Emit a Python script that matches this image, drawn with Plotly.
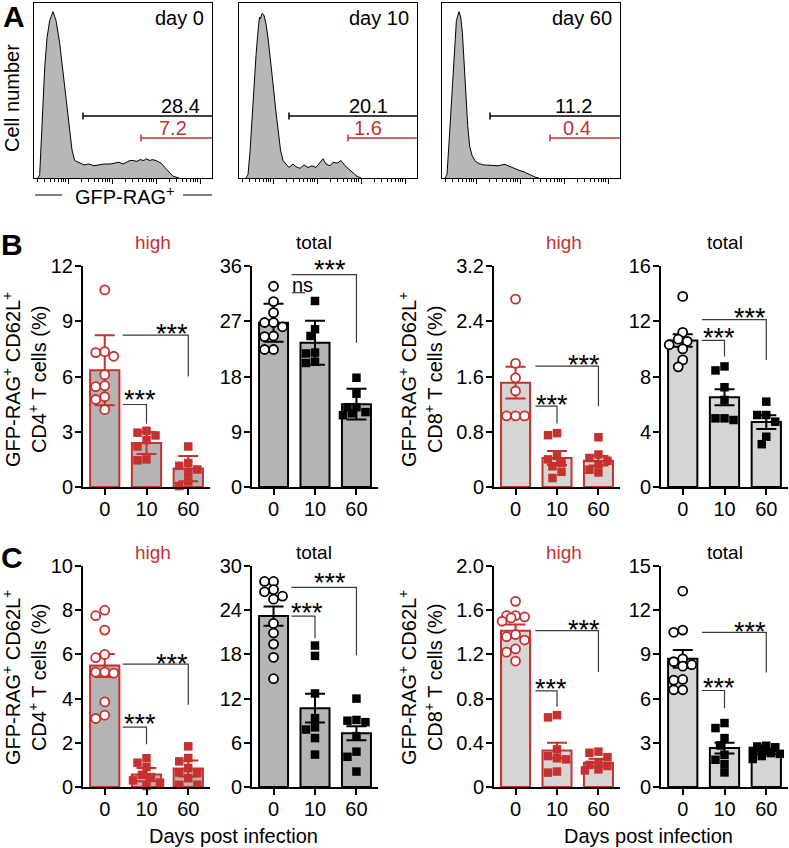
import math
import plotly.graph_objects as go

# ---------------- data ----------------
days = ["0", "10", "60"]

# panel A: histograms (x = position along GFP axis, y = % of max)
hist_d0_x = [4, 5.7, 8, 10.7, 13, 15.7, 19, 22, 25.7, 29, 32, 35.7, 38, 40.7, 45.7, 50, 55, 60, 65, 70,
             76, 81, 85, 89, 92, 96, 99, 103, 106, 110, 112, 116, 118, 122, 127, 131, 135, 139, 145]
hist_d0_y = [0, 2, 30, 63, 80, 90, 95, 90, 77, 60, 45, 26, 16, 10, 8.5, 7.5, 8, 7, 7.5, 8,
             8, 8.5, 9, 8, 9, 10, 10, 9.5, 10.5, 10, 11, 10, 10.5, 10, 8.5, 6, 3, 1, 0]
hist_d10_x = [7, 9, 11, 14, 17, 19, 20.5, 21.5, 23, 25, 27, 29, 31.5, 34, 36.5, 39, 41.5, 44, 47, 50,
              54, 57, 61, 65, 69, 73, 77, 81, 84, 87, 91, 94, 98, 102, 106, 110, 114, 118, 122]
hist_d10_y = [0, 2, 15, 45, 70, 84, 92, 91, 94, 93, 88, 80, 68, 54, 40, 26, 16, 10, 8, 6,
              8, 6.5, 5.5, 7.5, 6, 7, 6, 8.5, 11, 8, 7, 9, 8.5, 10, 7, 5, 3, 1, 0]
hist_d60_x = [3, 5, 7, 9.4, 12, 14.4, 17, 18.7, 20.4, 22, 23.7, 25.7, 27.7, 30, 32.7, 36, 41, 46, 51, 56,
              60, 63, 66, 70, 74, 78, 82, 86, 90, 94, 97]
hist_d60_y = [0, 2, 20, 45, 72, 90, 95, 92, 83, 65, 45, 30, 18, 13, 10, 8.5, 7.5, 7.2, 7, 7,
              7.5, 7.8, 7, 6, 5, 4.2, 3.5, 2.5, 1.2, 0.3, 0]
hist_labels = ["day 0", "day 10", "day 60"]
gate_total = ["28.4", "20.1", "11.2"]
gate_high = ["7.2", "1.6", "0.4"]

# panel B
b_cd4_high_mean = [6.34, 2.39, 1.0]
b_cd4_high_err = [1.9, 0.6, 0.69]
b_cd4_high_d0 = [10.7, 7.3, 7.35, 7.1, 6.1, 5.5, 5.45, 4.9, 4.75, 4.2]
b_cd4_high_d10 = [3.05, 2.95, 2.8, 2.55, 2.2, 1.45, 1.5]
b_cd4_high_d60 = [2.2, 1.3, 1.15, 0.95, 0.75, 0.3, 0.05]
b_cd4_high_ticks = ["0", "3", "6", "9", "12"]

b_cd4_total_mean = [26.75, 23.5, 13.5]
b_cd4_total_err = [3.1, 3.6, 2.5]
b_cd4_total_d0 = [32.7, 30.2, 28.4, 26.8, 26.8, 26.1, 24.6, 24.5, 22.4, 22.4]
b_cd4_total_d10 = [30.3, 25.7, 24.6, 21.9, 21.75, 20.2, 20.4]
b_cd4_total_d60 = [17.8, 15.2, 13.0, 13.0, 12.0, 11.7, 12.2]
b_cd4_total_ticks = ["0", "9", "18", "27", "36"]

b_cd8_high_mean = [1.51, 0.42, 0.38]
b_cd8_high_err = [0.23, 0.1, 0.07]
b_cd8_high_d0 = [2.72, 1.79, 1.58, 1.39, 1.03, 1.03, 1.03]
b_cd8_high_d10 = [0.78, 0.75, 0.45, 0.40, 0.35, 0.30, 0.22, 0.13]
b_cd8_high_d60 = [0.72, 0.47, 0.42, 0.38, 0.33, 0.25, 0.21]
b_cd8_high_ticks = ["0", "0.8", "1.6", "2.4", "3.2"]

b_cd8_total_mean = [10.6, 6.5, 4.7]
b_cd8_total_err = [0.45, 0.58, 0.5]
b_cd8_total_d0 = [13.8, 11.2, 10.7, 10.55, 10.3, 10.0, 9.2, 8.7]
b_cd8_total_d10 = [8.73, 8.44, 7.22, 6.3, 4.97, 4.85, 4.97]
b_cd8_total_d60 = [6.18, 5.21, 5.21, 4.73, 3.64, 3.1]
b_cd8_total_ticks = ["0", "4", "8", "12", "16"]

# panel C
c_cd4_high_mean = [5.5, 0.56, 0.84]
c_cd4_high_err = [0.52, 0.3, 0.36]
c_cd4_high_d0 = [8.0, 7.75, 7.1, 6.0, 5.85, 5.2, 5.15, 5.2, 3.85, 3.25, 3.1]
c_cd4_high_d10 = [1.3, 1.1, 0.9, 0.55, 0.45, 0.3, 0.2, 0.05]
c_cd4_high_d60 = [1.84, 1.31, 1.16, 0.86, 0.65, 0.63, 0.4, 0.1, 0.1]
c_cd4_high_ticks = ["0", "2", "4", "6", "8", "10"]

c_cd4_total_mean = [23.2, 10.7, 7.3]
c_cd4_total_err = [1.3, 1.95, 0.95]
c_cd4_total_d0 = [27.9, 27.9, 26.8, 26.5, 25.9, 25.5, 22.2, 20.9, 19.4, 17.6, 14.7]
c_cd4_total_d10 = [19.2, 17.8, 12.7, 9.35, 8.1, 7.8, 6.64, 4.4]
c_cd4_total_d60 = [12.0, 9.1, 9.0, 8.8, 6.9, 4.8, 4.1, 2.1]
c_cd4_total_ticks = ["0", "6", "12", "18", "24", "30"]

c_cd8_high_mean = [1.415, 0.33, 0.22]
c_cd8_high_err = [0.055, 0.07, 0.035]
c_cd8_high_d0 = [1.68, 1.55, 1.55, 1.54, 1.53, 1.50, 1.38, 1.36, 1.33, 1.25, 1.22, 1.14]
c_cd8_high_d10 = [0.65, 0.63, 0.34, 0.28, 0.26, 0.25, 0.14, 0.13]
c_cd8_high_d60 = [0.32, 0.31, 0.27, 0.22, 0.2, 0.19, 0.16, 0.15]
c_cd8_high_ticks = ["0", "0.4", "0.8", "1.2", "1.6", "2.0"]

c_cd8_total_mean = [8.7, 2.64, 2.42]
c_cd8_total_err = [0.6, 0.36, 0.2]
c_cd8_total_d0 = [13.3, 10.65, 10.5, 8.7, 8.5, 8.3, 8.2, 7.3, 7.25, 6.6, 6.6]
c_cd8_total_d10 = [4.34, 4.0, 3.32, 2.82, 2.19, 1.85, 1.56, 0.99]
c_cd8_total_d60 = [2.8, 2.75, 2.7, 2.6, 2.45, 2.3, 2.25, 2.1, 1.9]
c_cd8_total_ticks = ["0", "3", "6", "9", "12", "15"]

# ---------------- layout helpers ----------------
W, H = 789, 848
FONT = "Arial, Liberation Sans, sans-serif"
RED = "#c6312f"
BRK = "#3a3a3a"


def fx(p):
    return p / W


def fy(p):
    return 1 - p / H


def names(i):
    if i == 1:
        return "xaxis", "yaxis", "x", "y"
    return f"xaxis{i}", f"yaxis{i}", f"x{i}", f"y{i}"


fig = go.Figure()
layout = dict(template="none", width=W, height=H, margin=dict(l=0, r=0, t=0, b=0, pad=0),
              autosize=False,
              paper_bgcolor="white", plot_bgcolor="white", showlegend=False,
              font=dict(family=FONT, size=20, color="black"))
shapes = []
annotations = []


def text(x, y, s, size=20, color="black", xanchor="center", **kw):
    annotations.append(dict(x=fx(x), y=fy(y), xref="paper", yref="paper", text=s, showarrow=False,
                            xanchor=xanchor, yanchor="middle",
                            font=dict(size=size, color=color, family=FONT), **kw))


# ---------------- panel A ----------------
box_left = [34, 239, 442]
hists = [(hist_d0_x, hist_d0_y), (hist_d10_x, hist_d10_y), (hist_d60_x, hist_d60_y)]
gate_total_start = [49, 50, 48]
gate_high_start = [107, 109, 108]
gate_total_lab = [146, 129, 131]
gate_high_lab = [139, 129, 135]

majors = [34, 78, 122, 166]
minors = [d + 44 * math.log10(k) for d in [-10, 34, 78, 122] for k in range(2, 10)]
minors = [m for m in minors if 0 < m < 178 and m not in majors]

for i in range(3):
    xa, ya, xr, yr = names(i + 1)
    layout[xa] = dict(domain=[fx(box_left[i]), fx(box_left[i] + 178)], range=[0, 178], anchor=yr,
                      showline=True, mirror=True, linecolor="black", linewidth=1,
                      ticks="outside", tickvals=majors, ticklen=5, tickcolor="black", tickwidth=1,
                      minor=dict(tickvals=minors, ticks="outside", ticklen=3, tickcolor="black"),
                      showticklabels=False, showgrid=False, zeroline=False, automargin=False)
    layout[ya] = dict(domain=[fy(178), fy(3)], range=[0, 100], anchor=xr, showline=True, mirror=True,
                      linecolor="black", linewidth=1, ticks="", showticklabels=False,
                      showgrid=False, zeroline=False, automargin=False)
    hx, hy = hists[i]
    fig.add_trace(go.Scatter(x=hx, y=hy, mode="lines", fill="tozeroy", fillcolor="#b7b7b7",
                             line=dict(color="black", width=1), xaxis=xr, yaxis=yr,
                             hoverinfo="skip"))
    for start, yy, col in [(gate_total_start[i], 35.4, "black"), (gate_high_start[i], 22.9, RED)]:
        shapes.append(dict(type="line", xref=xr, yref=yr, x0=start, x1=178, y0=yy, y1=yy,
                           line=dict(color=col, width=1.5)))
        shapes.append(dict(type="line", xref=xr, yref=yr, x0=start, x1=start, y0=yy - 2, y1=yy + 2,
                           line=dict(color=col, width=1.5)))
    annotations.append(dict(x=gate_total_lab[i], y=41.1, xref=xr, yref=yr, text=gate_total[i],
                            showarrow=False, xanchor="center", yanchor="middle",
                            font=dict(size=20, color="black")))
    annotations.append(dict(x=gate_high_lab[i], y=28.6, xref=xr, yref=yr, text=gate_high[i],
                            showarrow=False, xanchor="center", yanchor="middle",
                            font=dict(size=20, color=RED)))
    text(box_left[i] + 172, 18, hist_labels[i], xanchor="right")

text(14, 17, "<b>A</b>", size=30)
text(12, 98, "Cell number", textangle=-90)
text(124, 195, "GFP-RAG<sup>+</sup>")
shapes.append(dict(type="line", xref="paper", yref="paper", x0=fx(35), x1=fx(62), y0=fy(195), y1=fy(195),
                   line=dict(color="black", width=1)))
shapes.append(dict(type="line", xref="paper", yref="paper", x0=fx(183), x1=fx(212), y0=fy(195), y1=fy(195),
                   line=dict(color="black", width=1)))

# ---------------- panels B and C ----------------
col_px = [(83, 210), (252, 378), (494, 620), (661, 788)]
row_px = [(266, 487), (566, 787)]
fills = ["#b4b4b4", "#b4b4b4", "#d5d5d3", "#d5d5d3"]

panels = [
    dict(r=0, c=0, mean=b_cd4_high_mean, err=b_cd4_high_err, ticks=b_cd4_high_ticks,
         pts=[b_cd4_high_d0, b_cd4_high_d10, b_cd4_high_d60], high=True,
         br=[(0.43, 2, 8.25, 6.0, 1.61, 8.61), (0.43, 1, 4.48, 3.44, 0.84, 5.07)]),
    dict(r=0, c=1, mean=b_cd4_total_mean, err=b_cd4_total_err, ticks=b_cd4_total_ticks,
         pts=[b_cd4_total_d0, b_cd4_total_d10, b_cd4_total_d60], high=False,
         br=[(0.43, 2, 34.6, 23.5, 1.36, 36.4)], ns=(0.44, 0.76, 31.65, 0.71, 32.9)),
    dict(r=0, c=2, mean=b_cd8_high_mean, err=b_cd8_high_err, ticks=b_cd8_high_ticks,
         pts=[b_cd8_high_d0, b_cd8_high_d10, b_cd8_high_d60], high=True,
         br=[(0.48, 2, 1.75, 1.17, 1.64, 1.85), (0.48, 1, 1.17, 0.92, 0.88, 1.28)]),
    dict(r=0, c=3, mean=b_cd8_total_mean, err=b_cd8_total_err, ticks=b_cd8_total_ticks,
         pts=[b_cd8_total_d0, b_cd8_total_d10, b_cd8_total_d60], high=False,
         br=[(0.46, 2, 12.12, 9.2, 1.6, 12.65), (0.46, 1, 10.62, 9.45, 0.87, 11.2)]),
    dict(r=1, c=0, mean=c_cd4_high_mean, err=c_cd4_high_err, ticks=c_cd4_high_ticks,
         pts=[c_cd4_high_d0, c_cd4_high_d10, c_cd4_high_d60], high=True,
         br=[(0.43, 2, 5.56, 3.72, 1.61, 5.83), (0.43, 1, 2.71, 1.94, 0.84, 3.12)]),
    dict(r=1, c=1, mean=c_cd4_total_mean, err=c_cd4_total_err, ticks=c_cd4_total_ticks,
         pts=[c_cd4_total_d0, c_cd4_total_d10, c_cd4_total_d60], high=False,
         br=[(0.43, 2, 27.1, 17.9, 1.36, 28.5), (0.43, 1, 23.2, 20.2, 0.8, 24.4)]),
    dict(r=1, c=2, mean=c_cd8_high_mean, err=c_cd8_high_err, ticks=c_cd8_high_ticks,
         pts=[c_cd8_high_d0, c_cd8_high_d10, c_cd8_high_d60], high=True,
         br=[(0.48, 2, 1.415, 1.04, 1.64, 1.476), (0.48, 1, 0.87, 0.727, 0.86, 0.945)]),
    dict(r=1, c=3, mean=c_cd8_total_mean, err=c_cd8_total_err, ticks=c_cd8_total_ticks,
         pts=[c_cd8_total_d0, c_cd8_total_d10, c_cd8_total_d60], high=False,
         br=[(0.46, 2, 10.5, 7.77, 1.6, 10.96), (0.46, 1, 6.55, 5.35, 0.87, 7.1)]),
]

XR = [-0.52, 2.52]


def swarm(vals, center, ppx, ppy, d=9.0, lim=14):
    placed = []
    out = [center] * len(vals)
    cands = [0.0]
    for k in range(1, 8):
        cands += [-k * d / 2, k * d / 2]
    cands = [c for c in cands if abs(c) <= lim]
    for i in sorted(range(len(vals)), key=lambda j: -vals[j]):
        yp = vals[i] * ppy
        pick = None
        for c in cands:
            if all((c - a) ** 2 + (yp - b) ** 2 >= (0.9 * d) ** 2 for a, b in placed):
                pick = c
                break
        if pick is None:
            pick = max(cands, key=lambda c: min((c - a) ** 2 + (yp - b) ** 2 for a, b in placed))
        placed.append((pick, yp))
        out[i] = center + pick / ppx
    return out


for n, p in enumerate(panels):
    xa, ya, xr, yr = names(4 + n)
    cx0, cx1 = col_px[p["c"]]
    ry0, ry1 = row_px[p["r"]]
    tv = [float(t) for t in p["ticks"]]
    ymax = tv[-1]
    edge = RED if p["high"] else "black"
    layout[xa] = dict(domain=[fx(cx0), min(1.0, fx(cx1))], range=XR, anchor=yr, showline=True,
                      linecolor="black", linewidth=2, ticks="outside", ticklen=6, tickwidth=2,
                      tickcolor="black", tickvals=[0, 1, 2], ticktext=days, tickfont=dict(size=20),
                      ticklabelstandoff=-3, showgrid=False, zeroline=False, automargin=False)
    layout[ya] = dict(domain=[fy(ry1), fy(ry0)], range=[0, ymax], anchor=xr, showline=True,
                      linecolor="black", linewidth=2, ticks="outside", ticklen=6, tickwidth=2,
                      tickcolor="black", tickvals=tv, ticktext=p["ticks"], tickfont=dict(size=20),
                      ticklabelstandoff=-2, showgrid=False, zeroline=False, automargin=False)
    fig.add_trace(go.Bar(x=[0, 1, 2], y=p["mean"], width=0.7, xaxis=xr, yaxis=yr,
                         marker=dict(color=fills[p["c"]], line=dict(color=edge, width=2)),
                         error_y=dict(type="data", array=p["err"], color=edge, thickness=2, width=10),
                         hoverinfo="skip"))
    ppx = (cx1 - cx0) / (XR[1] - XR[0])
    ppy = (ry1 - ry0) / ymax
    for g, vals in enumerate(p["pts"]):
        xs = swarm(vals, g, ppx, ppy)
        if g == 0:
            mk = dict(symbol="circle", size=9, color="white", line=dict(color=edge, width=1.8))
        else:
            mk = dict(symbol="square", size=8.5, color=edge, line=dict(width=0))
        fig.add_trace(go.Scatter(x=xs, y=vals, mode="markers", marker=mk, xaxis=xr, yaxis=yr,
                                 cliponaxis=False, hoverinfo="skip"))
    for x0, x1, yh, yd, tx, ty in p["br"]:
        shapes.append(dict(type="path", xref=xr, yref=yr, path=f"M{x0},{yh} L{x1},{yh} L{x1},{yd}",
                           line=dict(color=BRK, width=1.2)))
        # annotations above the axis range are hidden, so pin them to the top and shift in px
        extra = max(0.0, ty - ymax) * ppy
        annotations.append(dict(x=tx, y=min(ty, ymax), xref=xr, yref=yr, text="***", showarrow=False,
                                xanchor="center", yanchor="middle",
                                yshift=-6 + extra, font=dict(size=27, color="black")))
    if p.get("ns"):
        x0, x1, yh, tx, ty = p["ns"]
        shapes.append(dict(type="line", xref=xr, yref=yr, x0=x0, x1=x1, y0=yh, y1=yh,
                           line=dict(color=BRK, width=1.2)))
        annotations.append(dict(x=tx, y=ty, xref=xr, yref=yr, text="ns", showarrow=False,
                                xanchor="center", yanchor="middle",
                                font=dict(size=20, color="black")))

# titles above bar panels
title_x = [153, 314, 564, 725]
for r, ty in enumerate([242, 552]):
    for c in range(4):
        hi = c in (0, 2)
        text(title_x[c], ty, "high" if hi else "total", size=19, color=RED if hi else "black")

text(12, 244, "<b>B</b>", size=30)
text(12, 557, "<b>C</b>", size=30)

ytitle_cd4 = "GFP-RAG<sup>+</sup> CD62L<sup>+</sup><br>CD4<sup>+</sup> T cells (%)"
ytitle_cd8 = "GFP-RAG<sup>+</sup> CD62L<sup>+</sup><br>CD8<sup>+</sup> T cells (%)"
for yc in [380, 678]:
    text(24, yc, ytitle_cd4, textangle=-90)
    text(420, yc, ytitle_cd8, textangle=-90)

text(234, 836, "Days post infection")
text(648, 836, "Days post infection")

layout["shapes"] = shapes
layout["annotations"] = annotations
fig.update_layout(**layout)
# drop the browser's default body margin so the figure sits at the page corner
fig.write_html("out.html", config={"displayModeBar": False},
               post_script="document.body.style.margin='0';")
